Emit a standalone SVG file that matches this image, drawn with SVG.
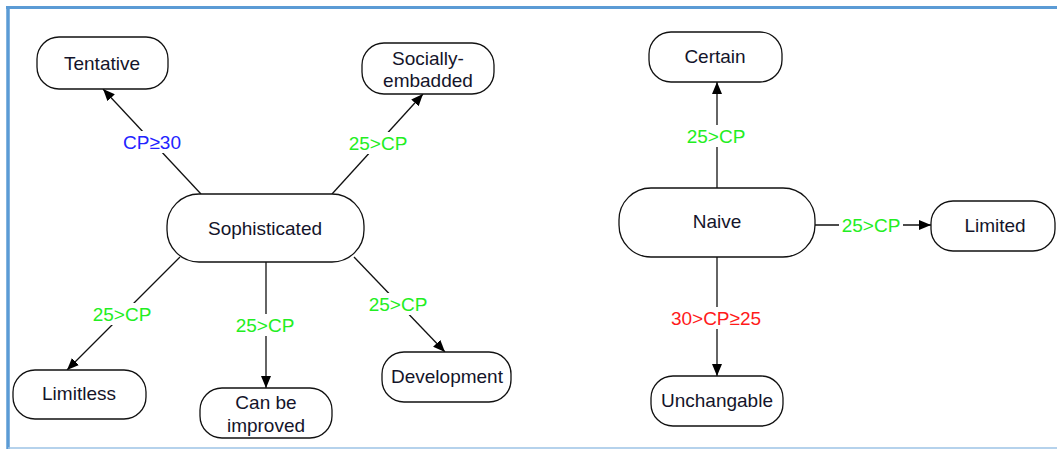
<svg xmlns="http://www.w3.org/2000/svg" width="1057" height="449" viewBox="0 0 1057 449">
<defs>
<marker id="ah" markerWidth="12" markerHeight="10" refX="12" refY="5" orient="auto" markerUnits="userSpaceOnUse">
<path d="M0,0 L12,5 L0,10 Z" fill="#000"/>
</marker>
<style>
.node rect{fill:#fff;stroke:#111;stroke-width:1.3}
.node text{font-family:"Liberation Sans",Arial,sans-serif;font-size:19px;fill:#14142a;text-anchor:middle}
.edge line{stroke:#111;stroke-width:1.3;marker-end:url(#ah)}
.lbl rect{fill:#fff}
.lbl text{font-family:"Liberation Sans",Arial,sans-serif;font-size:19px;text-anchor:middle}
.g{fill:#22ee22}
.b{fill:#2222ff}
.r{fill:#ff1a1a}
</style>
</defs>
<rect width="1057" height="449" fill="#fff"/>
<line x1="6" y1="7.5" x2="1057" y2="7.5" stroke="#5b9bd5" stroke-width="3"/>
<line x1="8" y1="6" x2="8" y2="449" stroke="#5b9bd5" stroke-width="3.5"/>
<line x1="8" y1="448" x2="1057" y2="448" stroke="#9dc3e6" stroke-width="1.5"/>

<g id="connectors">
<g class="edge">
<line x1="201" y1="194" x2="103" y2="89"/>
<line x1="332" y1="194" x2="423" y2="94"/>
<line x1="180" y1="257" x2="67" y2="370"/>
<line x1="266" y1="262" x2="266" y2="388"/>
<line x1="354" y1="257" x2="445" y2="352"/>
<line x1="717" y1="188" x2="717" y2="82"/>
<line x1="815" y1="225" x2="931" y2="225"/>
<line x1="717" y1="257" x2="717" y2="376"/>
</g>
<g class="lbl">
<rect x="120" y="131" width="64" height="22"/>
<text class="b" x="152" y="149">CP≥30</text>
<rect x="346" y="132" width="64" height="22"/>
<text class="g" x="378" y="150">25&gt;CP</text>
<rect x="90" y="303" width="64" height="22"/>
<text class="g" x="122" y="321">25&gt;CP</text>
<rect x="233" y="314" width="64" height="22"/>
<text class="g" x="265" y="332">25&gt;CP</text>
<rect x="366" y="293" width="64" height="22"/>
<text class="g" x="398" y="311">25&gt;CP</text>
<rect x="684" y="125" width="64" height="22"/>
<text class="g" x="716" y="143">25&gt;CP</text>
<rect x="839" y="214" width="64" height="22"/>
<text class="g" x="871" y="232">25&gt;CP</text>
<rect x="668" y="307" width="96" height="22"/>
<text class="r" x="716" y="325">30&gt;CP≥25</text>
</g>
</g>

<g id="tentative" class="node">
<rect x="37" y="37" width="131" height="52" rx="22"/>
<text x="102" y="70">Tentative</text>
</g>
<g id="socially" class="node">
<rect x="362" y="43" width="132" height="51" rx="22"/>
<text x="428" y="65">Socially-</text>
<text x="428" y="87">embadded</text>
</g>
<g id="sophisticated" class="node">
<rect x="167" y="194" width="197" height="68" rx="32"/>
<text x="265" y="235">Sophisticated</text>
</g>
<g id="limitless" class="node">
<rect x="13" y="370" width="133" height="49" rx="22"/>
<text x="79" y="400">Limitless</text>
</g>
<g id="canbeimproved" class="node">
<rect x="200" y="388" width="132" height="50" rx="22"/>
<text x="266" y="409">Can be</text>
<text x="266" y="432">improved</text>
</g>
<g id="development" class="node">
<rect x="382" y="352" width="129" height="50" rx="22"/>
<text x="447" y="383">Development</text>
</g>
<g id="certain" class="node">
<rect x="649" y="32" width="133" height="50" rx="22"/>
<text x="715" y="63">Certain</text>
</g>
<g id="naive" class="node">
<rect x="619" y="188" width="196" height="69" rx="32"/>
<text x="717" y="228">Naive</text>
</g>
<g id="limited" class="node">
<rect x="931" y="201" width="124" height="50" rx="22"/>
<text x="995" y="232">Limited</text>
</g>
<g id="unchangable" class="node">
<rect x="651" y="376" width="132" height="50" rx="22"/>
<text x="717" y="407">Unchangable</text>
</g>
</svg>
